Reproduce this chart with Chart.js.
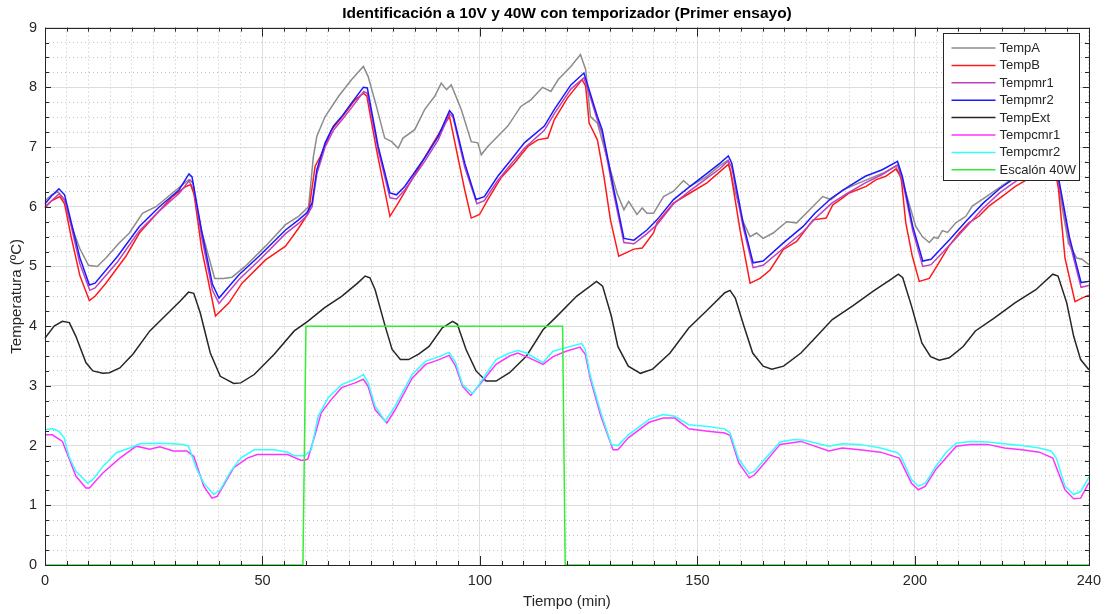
<!DOCTYPE html>
<html>
<head>
<meta charset="utf-8">
<script src="https://cdn.jsdelivr.net/npm/chart.js@4.4.1/dist/chart.umd.min.js"></script>
<style>
  html, body { margin: 0; padding: 0; background: #ffffff; }
  #wrap { position: relative; width: 1108px; height: 614px; }
</style>
</head>
<body>
<div id="wrap"><canvas id="myChart" width="1108" height="614"></canvas></div>
<script>
// Data: [tiempo (min), temperatura (ºC)]
const tempA = [[0,6.1],[1.5,6.2],[3,6.25],[4.5,6.1],[6,5.7],[8,5.3],[10,5.02],[12,5.0],[14,5.14],[17,5.39],[19.4,5.56],[22.4,5.89],[25.5,6.0],[29.3,6.23],[33,6.45],[34,6.3],[36,5.6],[39,4.8],[41,4.8],[43,4.82],[46,5.0],[50.7,5.34],[55.3,5.7],[58.3,5.84],[60.6,6.0],[61.7,6.84],[62.5,7.18],[64.4,7.51],[67.5,7.85],[70.5,8.13],[73.2,8.35],[74.3,8.18],[76.2,7.68],[78.1,7.15],[79.7,7.09],[81.2,6.98],[82.3,7.15],[85,7.29],[87.3,7.63],[89.6,7.85],[91.1,8.07],[92.3,7.96],[93.4,8.04],[95.7,7.63],[98,7.09],[99.5,7.07],[100.3,6.87],[101.8,7.01],[104.1,7.18],[106.4,7.35],[109.4,7.68],[111.7,7.79],[114.4,8.0],[116.3,7.93],[118,8.13],[120.9,8.35],[123.1,8.55],[124.3,8.3],[125.4,7.51],[127,7.4],[129.3,6.79],[131.5,6.23],[133.1,5.95],[134.2,6.09],[136.1,5.87],[137.3,5.98],[138.4,5.89],[139.9,5.89],[142.2,6.17],[144.5,6.26],[146.8,6.44],[148.3,6.34],[152,6.5],[155,6.68],[157,6.78],[158.5,6.3],[160.5,5.75],[162.1,5.5],[163.6,5.56],[165.1,5.47],[167.4,5.56],[170.5,5.75],[172.8,5.73],[175.8,5.95],[178.8,6.17],[180.7,6.12],[183.4,6.28],[187.2,6.4],[192.6,6.56],[195.6,6.68],[197.5,6.34],[200.2,5.67],[201.7,5.5],[203.3,5.4],[204.4,5.49],[205.3,5.47],[206.3,5.6],[207.5,5.57],[209.4,5.73],[211.7,5.84],[213.2,6.01],[216,6.15],[220,6.35],[224,6.55],[232,6.85],[233.8,6.0],[235.3,5.39],[237.2,5.14],[238.4,5.12],[240,5.03]];

const tempB = [[0,6.0],[1.5,6.1],[3.4,6.17],[4.5,6.05],[6,5.5],[8,4.85],[10.2,4.43],[11.5,4.5],[14,4.72],[18.6,5.17],[21.7,5.56],[25.5,5.87],[29.3,6.17],[32.4,6.34],[33.5,6.37],[34.3,6.2],[36,5.3],[39.2,4.17],[42.3,4.39],[45.3,4.72],[50.7,5.11],[55.3,5.34],[58.3,5.64],[60.6,5.9],[62.1,6.68],[63.3,6.84],[65.9,7.29],[69,7.57],[71.3,7.79],[73.2,7.9],[74,7.85],[76.2,6.96],[79.3,5.84],[81.2,6.06],[84.3,6.45],[88.8,7.01],[91.1,7.29],[93,7.51],[94.9,6.84],[96.5,6.28],[98,5.81],[99.9,5.87],[101.8,6.12],[104.9,6.49],[107.9,6.73],[111,7.01],[113.3,7.12],[115.6,7.15],[117.1,7.46],[120.1,7.82],[123.5,8.13],[124.3,8.02],[125.1,7.4],[127,7.12],[128.5,6.51],[130,5.78],[131.9,5.17],[135.4,5.29],[137.3,5.31],[139.9,5.56],[140.7,5.73],[144.5,6.06],[148.3,6.23],[152.2,6.4],[157.1,6.71],[157.6,6.6],[159.8,5.61],[162.1,4.72],[164.4,4.8],[166.7,4.94],[169.7,5.28],[172.8,5.42],[176.6,5.78],[179.6,5.81],[181.1,6.03],[183.4,6.15],[184.9,6.23],[188.8,6.34],[191,6.45],[193.3,6.51],[195.6,6.63],[196.8,6.51],[197.9,5.73],[199.4,5.17],[201,4.75],[203.3,4.8],[205.5,5.06],[207.8,5.34],[210.2,5.56],[212.4,5.73],[214.7,5.84],[217,6.01],[220,6.17],[223.1,6.34],[232,6.72],[233,6.3],[234.5,5.14],[236.8,4.41],[238.4,4.47],[240,4.52]];

const tempmr1 = [[0,5.98],[1.5,6.1],[3.3,6.22],[4.5,6.12],[6,5.68],[8,5.05],[10.3,4.6],[11.5,4.64],[16.7,5.08],[21.7,5.6],[26.3,5.93],[30.8,6.22],[33.3,6.45],[34,6.4],[36,5.5],[38.5,4.6],[40,4.38],[44.6,4.78],[49.2,5.1],[55.3,5.55],[58.3,5.72],[60.2,5.85],[61.4,6.0],[62.5,6.55],[64.4,7.0],[66.3,7.28],[68.2,7.45],[70.5,7.66],[73.3,7.93],[74.1,7.9],[76.6,6.95],[79.3,6.15],[80.8,6.13],[82.7,6.28],[87.3,6.76],[90.4,7.12],[93,7.56],[93.8,7.5],[96.5,6.66],[99.3,6.05],[101,6.1],[104.1,6.44],[107.2,6.72],[110.2,6.98],[114.8,7.28],[117.1,7.56],[120.9,7.97],[123.9,8.16],[125.1,7.9],[127,7.45],[128.1,7.22],[130.8,6.2],[133.1,5.4],[135.4,5.38],[138.4,5.55],[140.7,5.7],[144.5,6.05],[148.3,6.27],[152.2,6.48],[155.2,6.64],[157.1,6.77],[157.9,6.66],[160.5,5.66],[162.8,4.98],[165.1,5.02],[169.7,5.3],[174.3,5.58],[177,5.8],[180.9,6.06],[184.8,6.24],[188.6,6.4],[192.5,6.54],[196,6.7],[197.1,6.45],[199.5,5.6],[201.8,5.0],[203.7,5.03],[208,5.36],[211.8,5.66],[215.7,5.98],[219.6,6.24],[223.5,6.44],[232,6.8],[233.1,6.4],[235.5,5.42],[238.2,4.65],[240,4.68]];

const tempmr2 = [[0,6.05],[1.5,6.18],[3.2,6.3],[4.5,6.2],[6,5.75],[8,5.15],[10.2,4.69],[11.5,4.72],[16.7,5.17],[21.7,5.67],[26.3,6.0],[30.8,6.28],[33.1,6.55],[33.8,6.5],[36,5.6],[38.5,4.7],[40,4.47],[44.6,4.86],[49.2,5.17],[55.3,5.61],[58.3,5.78],[60.2,5.9],[61.4,6.06],[62.5,6.62],[64.4,7.07],[66.3,7.35],[68.2,7.51],[70.5,7.74],[73.2,8.0],[74.1,7.99],[76.6,7.01],[79.3,6.23],[80.8,6.2],[82.7,6.34],[87.3,6.82],[90.4,7.18],[93,7.61],[93.8,7.54],[96.5,6.73],[99.1,6.12],[101,6.17],[104.1,6.51],[107.2,6.79],[110.2,7.07],[114.8,7.35],[117.1,7.63],[120.9,8.04],[123.9,8.24],[125.1,7.96],[127,7.51],[128.1,7.29],[130.8,6.28],[133.1,5.47],[135.4,5.44],[138.4,5.61],[140.7,5.78],[144.5,6.12],[148.3,6.34],[152.2,6.56],[155.2,6.73],[157.1,6.85],[157.9,6.73],[160.5,5.73],[162.8,5.06],[165.1,5.09],[169.7,5.39],[174.3,5.67],[177,5.89],[180.9,6.15],[184.8,6.34],[188.6,6.51],[192.5,6.62],[196,6.76],[197.1,6.51],[199.5,5.67],[201.8,5.09],[203.7,5.12],[208,5.45],[211.8,5.76],[215.7,6.06],[219.6,6.31],[223.5,6.51],[232,6.85],[233.1,6.45],[235.5,5.5],[238.2,4.73],[240,4.75]];

const tempExt = [[0,3.8],[2.1,4.0],[4,4.08],[5.6,4.06],[7.1,3.83],[9.4,3.39],[11,3.25],[13.3,3.21],[14.8,3.22],[17.2,3.3],[20.2,3.53],[24.1,3.92],[28,4.2],[31.1,4.42],[33,4.57],[34.2,4.55],[35.7,4.22],[38,3.55],[40.3,3.16],[43.4,3.04],[45,3.05],[48.1,3.19],[52.7,3.53],[57.3,3.92],[60.4,4.08],[64.3,4.31],[68.2,4.5],[72,4.73],[73.6,4.84],[74.7,4.81],[75.9,4.61],[78.2,4.0],[79.8,3.61],[81.7,3.44],[83.6,3.44],[85.9,3.53],[88.3,3.66],[91.3,3.97],[93.7,4.08],[94.8,4.03],[96.8,3.61],[99.1,3.25],[101.4,3.08],[103.7,3.08],[106.8,3.22],[110.7,3.5],[114.5,3.94],[117.6,4.16],[122.2,4.5],[126.8,4.75],[128.2,4.67],[130.2,4.17],[131.7,3.66],[134.1,3.33],[136.9,3.21],[139.7,3.28],[143.7,3.55],[148,3.97],[152.4,4.28],[156.3,4.56],[157.5,4.6],[158.7,4.47],[160.7,4.0],[162.7,3.55],[165.1,3.33],[167.1,3.28],[169.8,3.33],[173.8,3.55],[177.8,3.86],[181,4.11],[185.7,4.34],[190.5,4.59],[194.4,4.78],[196.2,4.87],[197.2,4.81],[199.2,4.34],[201.6,3.72],[203.6,3.49],[205.6,3.43],[207.9,3.47],[211.1,3.66],[213.9,3.92],[218.3,4.14],[223,4.39],[227.8,4.61],[231.7,4.87],[232.9,4.84],[234.9,4.39],[236.5,3.83],[238.1,3.44],[240,3.27]];

const tempcmr1 = [[0,2.18],[1.7,2.18],[4,2.07],[5.6,1.77],[7.1,1.49],[9.4,1.29],[10.2,1.29],[13.3,1.54],[17.2,1.79],[21,1.99],[24.1,1.94],[26.4,1.98],[29.5,1.91],[32.6,1.91],[34.2,1.82],[36.5,1.32],[38.4,1.12],[39.6,1.15],[43.4,1.63],[46.5,1.79],[48.8,1.85],[52.7,1.85],[55.8,1.85],[58.9,1.75],[60.4,1.77],[62,2.16],[63.5,2.55],[65.8,2.77],[68.2,2.97],[71.3,3.05],[73.2,3.11],[74.3,2.99],[75.9,2.6],[78.6,2.38],[80.5,2.6],[84.4,3.13],[87.5,3.36],[90.6,3.44],[92.9,3.51],[94.4,3.33],[96,2.99],[97.9,2.84],[100.6,3.08],[103.7,3.36],[106.8,3.5],[108.7,3.55],[110.7,3.49],[114.5,3.36],[116.8,3.49],[119.8,3.58],[123,3.65],[124.2,3.53],[125.4,3.11],[127.8,2.49],[130.6,1.93],[131.7,1.93],[134.1,2.13],[138.9,2.39],[142.1,2.46],[144.8,2.46],[148,2.28],[152.4,2.24],[156.3,2.21],[157.5,2.17],[159.5,1.71],[161.9,1.46],[163.1,1.51],[165.1,1.68],[169,2.02],[173.8,2.07],[180.2,1.91],[183.3,1.96],[187.3,1.93],[192.1,1.89],[196.4,1.79],[199.2,1.37],[200.8,1.26],[202.4,1.32],[204.8,1.6],[209.5,1.99],[212.7,2.02],[216.7,2.02],[220.6,1.96],[224.6,1.93],[228.6,1.89],[231.7,1.79],[234.5,1.26],[236.5,1.11],[238.1,1.12],[240,1.38]];

const tempcmr2 = [[0,2.27],[1.7,2.28],[3.2,2.24],[4.4,2.13],[5.5,1.82],[7.1,1.57],[8.6,1.46],[9.8,1.37],[11,1.43],[13.3,1.65],[16.4,1.88],[19.5,1.96],[21.8,2.03],[25.6,2.04],[29.5,2.03],[31.8,2.02],[33,1.99],[34.9,1.6],[36.5,1.37],[38.8,1.18],[40.3,1.26],[42.7,1.57],[45,1.79],[48.1,1.93],[52.7,1.93],[55.8,1.89],[57.3,1.83],[59.7,1.83],[61.2,1.93],[62.8,2.49],[65.1,2.8],[68.2,3.02],[71.3,3.11],[73.2,3.19],[74.3,3.05],[75.9,2.66],[78.2,2.41],[80.5,2.66],[84.4,3.19],[87.5,3.41],[90.6,3.49],[92.9,3.56],[94.4,3.39],[96,3.02],[98.3,2.87],[100.6,3.11],[103.7,3.44],[106.8,3.55],[108.7,3.59],[110.7,3.55],[113,3.45],[114.5,3.39],[116.8,3.58],[119.8,3.64],[123.4,3.71],[124.2,3.61],[125.4,3.16],[127.8,2.55],[130.2,2.02],[131.7,2.0],[134.1,2.18],[138.9,2.44],[142.1,2.52],[144.8,2.49],[148,2.35],[152.4,2.32],[156.3,2.28],[157.5,2.21],[159.5,1.77],[161.9,1.53],[163.1,1.57],[165.1,1.74],[169,2.06],[172.2,2.1],[174.6,2.09],[180.2,1.99],[183.3,2.03],[187.3,2.02],[192.1,1.96],[196,1.88],[196.8,1.82],[199.2,1.43],[200.8,1.32],[202.4,1.37],[204.8,1.65],[207.1,1.88],[209.5,2.04],[212.7,2.07],[216.7,2.06],[220.6,2.03],[224.6,2.0],[228.6,1.96],[231.3,1.91],[232.5,1.79],[234.5,1.32],[236.5,1.18],[238.1,1.23],[240,1.47]];

const escalon = [[0,0],[59.3,0],[60,4],[119,4],[119.6,0],[240,0]];

const seriesNames = ['TempA', 'TempB', 'Tempmr1', 'Tempmr2', 'TempExt', 'Tempcmr1', 'Tempcmr2', 'Escalón 40W'];
const seriesData = [tempA, tempB, tempmr1, tempmr2, tempExt, tempcmr1, tempcmr2, escalon];
const seriesColors = ['#8c8c8c', '#ff1a1a', '#bf40bf', '#1a1aff', '#262626', '#ff33ff', '#33ffff', '#33ee33'];

const fontFamily = '"Liberation Sans", Arial, Helvetica, sans-serif';
const axisColor = '#262626';

function initChart() {
    const ctx = document.getElementById('myChart');

    const datasets = seriesData.map((serie, i) => ({
        label: seriesNames[i],
        data: serie.map(p => ({ x: p[0], y: p[1] })),
        borderColor: seriesColors[i],
        backgroundColor: seriesColors[i],
        borderWidth: 1.5,
        pointRadius: 0,
        tension: 0,
        fill: false,
        order: seriesData.length - i,   // MATLAB draws later series on top
        clip: 2
    }));

    // box around the axes plus inward tick marks (MATLAB style)
    const axesBox = {
        id: 'axesBox',
        afterDraw(chart) {
            const c = chart.ctx;
            const a = chart.chartArea;
            const xs = chart.scales.x;
            const ys = chart.scales.y;
            c.save();
            c.strokeStyle = axisColor;
            c.lineWidth = 1;
            c.beginPath();
            xs.ticks.forEach(t => {
                const px = Math.round(xs.getPixelForValue(t.value)) + 0.5;
                const len = t.value % 50 === 0 ? 9 : 4;
                c.moveTo(px, a.bottom); c.lineTo(px, a.bottom - len);
                c.moveTo(px, a.top); c.lineTo(px, a.top + len);
            });
            ys.ticks.forEach(t => {
                const py = Math.round(ys.getPixelForValue(t.value)) + 0.5;
                const len = Number.isInteger(t.value) ? 6 : 4;
                c.moveTo(a.left, py); c.lineTo(a.left + len, py);
                c.moveTo(a.right, py); c.lineTo(a.right - len, py);
            });
            c.stroke();
            c.strokeRect(Math.round(a.left) + 0.5, Math.round(a.top) + 0.5,
                         Math.round(a.right - a.left), Math.round(a.bottom - a.top));
            c.restore();
        }
    };

    // boxed legend in the upper right corner of the axes
    const boxLegend = {
        id: 'boxLegend',
        afterDraw(chart) {
            const c = chart.ctx;
            const a = chart.chartArea;
            const w = 136, h = 147;
            const x = Math.round(a.right - 10 - w) + 0.5;
            const y = Math.round(a.top + 5) + 0.5;
            c.save();
            c.fillStyle = '#ffffff';
            c.fillRect(x, y, w, h);
            c.strokeStyle = axisColor;
            c.lineWidth = 1;
            c.strokeRect(x, y, w, h);
            c.font = '13px ' + fontFamily;
            c.textBaseline = 'middle';
            c.textAlign = 'left';
            chart.data.datasets.forEach((ds, i) => {
                const cy = y + 14.5 + i * 17.4;
                c.strokeStyle = ds.borderColor;
                c.lineWidth = 1.5;
                c.beginPath();
                c.moveTo(x + 8, cy);
                c.lineTo(x + 52, cy);
                c.stroke();
                c.fillStyle = axisColor;
                c.fillText(ds.label, x + 56, cy + 0.5);
            });
            c.restore();
        }
    };

    const config = {
        type: 'line',
        data: { datasets: datasets },
        options: {
            responsive: false,
            animation: false,
            events: [],
            layout: { padding: { top: 0, right: 14, bottom: 0, left: 0 } },
            plugins: {
                legend: { display: false },
                tooltip: { enabled: false },
                title: {
                    display: true,
                    fullSize: false,
                    text: 'Identificación a 10V y 40W con temporizador (Primer ensayo)',
                    color: '#000000',
                    font: { size: 15.5, weight: 'bold', family: fontFamily },
                    padding: { top: 4, bottom: 5 }
                }
            },
            scales: {
                x: {
                    type: 'linear',
                    min: 0,
                    max: 240,
                    afterFit: s => { s.height = 49; },
                    grid: {
                        drawTicks: false,
                        lineWidth: 1,
                        color: c => (c.tick && c.tick.value % 50 === 0) ? '#dedede' : '#c4c4c4'
                    },
                    border: {
                        display: false,
                        dash: c => (c.tick && c.tick.value % 50 === 0) ? [] : [1, 3]
                    },
                    ticks: {
                        stepSize: 5,
                        autoSkip: false,
                        maxRotation: 0,
                        padding: 7,
                        color: axisColor,
                        font: { size: 14.5, family: fontFamily },
                        callback: v => (v % 50 === 0 || v === 240) ? String(v) : ''
                    },
                    title: {
                        display: true,
                        text: 'Tiempo (min)',
                        color: axisColor,
                        font: { size: 15, family: fontFamily },
                        padding: { top: 2, bottom: 3 }
                    }
                },
                y: {
                    type: 'linear',
                    min: 0,
                    max: 9,
                    afterFit: s => { s.width = 45; },
                    grid: {
                        drawTicks: false,
                        lineWidth: 1,
                        color: c => (c.tick && Number.isInteger(c.tick.value)) ? '#dedede' : '#c4c4c4'
                    },
                    border: {
                        display: false,
                        dash: c => (c.tick && Number.isInteger(c.tick.value)) ? [] : [1, 3]
                    },
                    ticks: {
                        stepSize: 0.25,
                        autoSkip: false,
                        padding: 8,
                        color: axisColor,
                        font: { size: 14.5, family: fontFamily },
                        callback: v => Number.isInteger(v) ? String(v) : ''
                    },
                    title: {
                        display: true,
                        text: 'Temperatura (ºC)',
                        color: axisColor,
                        font: { size: 15, family: fontFamily },
                        padding: { top: 8, bottom: 2 }
                    }
                }
            }
        },
        plugins: [axesBox, boxLegend]
    };

    window.tempChart = new Chart(ctx, config);
}

initChart();
</script>
</body>
</html>
